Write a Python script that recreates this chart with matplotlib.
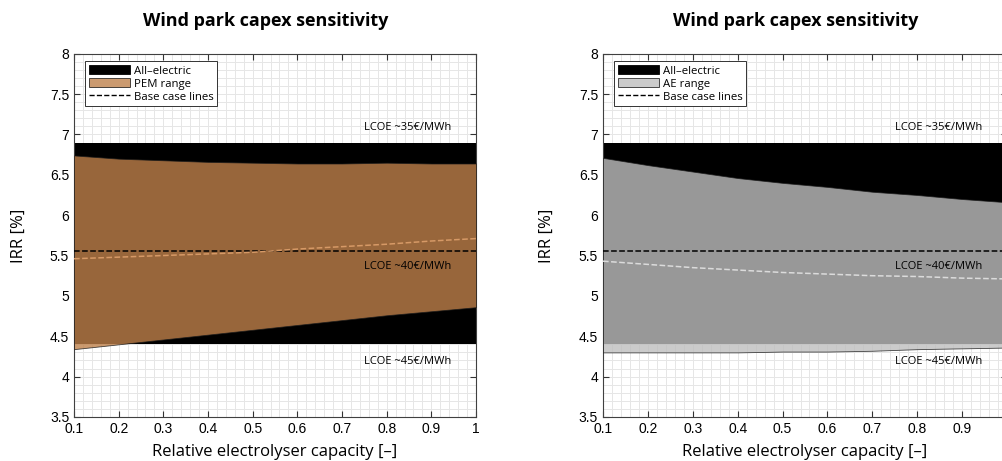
import numpy as np
import matplotlib.pyplot as plt
from matplotlib.patches import Patch
from matplotlib.lines import Line2D
from matplotlib.ticker import MultipleLocator

# data
cap = [0.1, 0.2, 0.3, 0.4, 0.5, 0.6, 0.7, 0.8, 0.9, 1.0]
ae_low_all = 4.4      # all-electric band
ae_high_all = 6.9
base_all = 5.55

pem_upper = [6.74, 6.70, 6.68, 6.66, 6.65, 6.64, 6.64, 6.65, 6.64, 6.64]
pem_lower = [4.34, 4.40, 4.46, 4.52, 4.58, 4.64, 4.70, 4.76, 4.81, 4.86]
pem_base = [5.46, 5.48, 5.50, 5.52, 5.54, 5.58, 5.61, 5.64, 5.68, 5.71]

ael_upper = [6.71, 6.62, 6.54, 6.46, 6.40, 6.35, 6.29, 6.25, 6.20, 6.16]
ael_lower = [4.30, 4.30, 4.30, 4.30, 4.31, 4.31, 4.32, 4.34, 4.35, 4.36]
ael_base = [5.43, 5.39, 5.35, 5.32, 5.29, 5.27, 5.25, 5.24, 5.22, 5.21]

lcoe_labels = ["LCOE ~35€/MWh", "LCOE ~40€/MWh", "LCOE ~45€/MWh"]
lcoe_y = [7.09, 5.36, 4.19]

xtick_vals = [0.1, 0.2, 0.3, 0.4, 0.5, 0.6, 0.7, 0.8, 0.9, 1.0]
ytick_vals = [3.5, 4, 4.5, 5, 5.5, 6, 6.5, 7, 7.5, 8]

panels = [
    ("PEM range", pem_upper, pem_lower, pem_base, (191/255, 129/255, 75/255), (0.84, 0.6, 0.4)),
    ("AE range", ael_upper, ael_lower, ael_base, (0.75, 0.75, 0.75), (0.86, 0.86, 0.86)),
]

txt_font = "Open Sans"
tick_font = "Liberation Sans"

fig = plt.figure(figsize=(10.03, 4.61), dpi=100)
positions = [[0.0738, 0.0955, 0.4008, 0.788], [0.6012, 0.0955, 0.4028, 0.788]]

for i, (pos, (name, up, lo, base, col, dcol)) in enumerate(zip(positions, panels)):
    ax = fig.add_axes(pos)
    ax.fill_between(cap, ae_low_all, ae_high_all, color="black", lw=0, zorder=2)
    ax.fill_between(cap, lo, up, facecolor=col, alpha=0.8, edgecolor=(0.1, 0.1, 0.1),
                    lw=0.6, zorder=3)
    ax.plot(cap, [base_all] * len(cap), "--", color="black", lw=1.1, zorder=4)
    ax.plot(cap, base, "--", color=dcol, lw=1.1, zorder=5)

    for s, yy in zip(lcoe_labels, lcoe_y):
        ax.text(0.75, yy, s, fontsize=8, family=txt_font, ha="left", va="center", zorder=6)

    ax.set_xlim(0.1, 1)
    ax.set_ylim(3.5, 8)
    ax.set_xticks(xtick_vals)
    xl = ["%g" % v for v in xtick_vals]
    if i == 1:
        xl[-1] = ""   # falls outside the figure in the original
    ax.set_xticklabels(xl)
    ax.set_yticks(ytick_vals)
    ax.set_yticklabels(["%g" % v for v in ytick_vals])
    ax.xaxis.set_minor_locator(MultipleLocator(0.02))
    ax.yaxis.set_minor_locator(MultipleLocator(0.1))
    ax.grid(True, which="both", color=(0.9, 0.9, 0.9), lw=0.7, zorder=0)
    ax.set_axisbelow(True)
    ax.tick_params(which="both", direction="in", top=True, right=True, labelsize=10,
                   color=(0.2, 0.2, 0.2))
    ax.tick_params(which="major", length=4)
    ax.tick_params(which="minor", length=0)
    for lab in ax.get_xticklabels() + ax.get_yticklabels():
        lab.set_fontfamily(tick_font)
    for sp in ax.spines.values():
        sp.set_color((0.25, 0.25, 0.25))
        sp.set_linewidth(0.8)

    ax.set_xlabel("Relative electrolyser capacity [–]", fontsize=12, family=txt_font, labelpad=6)
    ax.set_ylabel("IRR [%]", fontsize=12, family=txt_font)
    ax.yaxis.set_label_coords(-0.118, 0.5)
    ax.set_title("Wind park capex sensitivity", fontsize=13, fontweight="bold",
                 family=txt_font, pad=20, x=0.478)

    handles = [Patch(facecolor="black", edgecolor="black", lw=0.6),
               Patch(facecolor=col, alpha=0.8, edgecolor="black", lw=0.6),
               Line2D([], [], ls="--", color="black", lw=1.0)]
    leg = ax.legend(handles, ["All–electric", name, "Base case lines"], loc="upper left",
                    bbox_to_anchor=(0.022, 0.985), prop={"family": txt_font, "size": 8.2},
                    fancybox=False, framealpha=1, edgecolor=(0.2, 0.2, 0.2),
                    handlelength=3.6, handleheight=0.9, borderpad=0.3, labelspacing=0.12,
                    handletextpad=0.35, borderaxespad=0.2)
    leg.get_frame().set_linewidth(0.7)
    leg.set_zorder(10)

fig.savefig("out.png", dpi=100)
